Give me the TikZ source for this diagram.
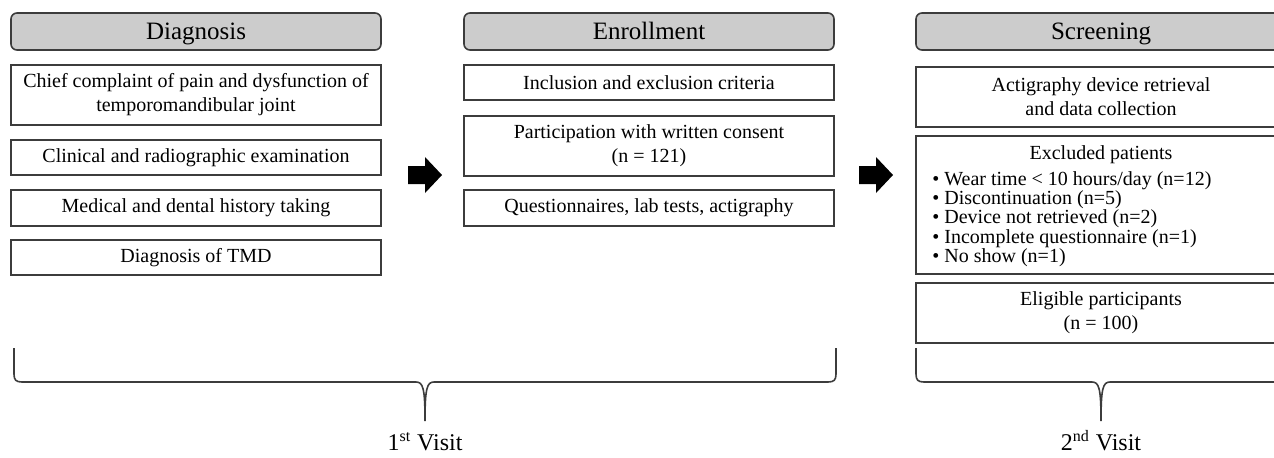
\documentclass[tikz,border=0pt]{standalone}
\usepackage{fontspec}
\setmainfont{Liberation Serif}
\usepackage{tikz}
\definecolor{hdrgray}{RGB}{204,204,204}
\definecolor{edgegray}{RGB}{60,60,60}
\tikzset{
  phasehead/.style={draw=edgegray, line width=0.8pt, fill=hdrgray, rounded corners=3pt,
    minimum width=185pt, minimum height=18.5pt, inner sep=0pt,
    text height=10.5pt, text depth=2.5pt,
    font=\fontsize{12.5pt}{14pt}\selectfont},
  stepbox/.style={draw=edgegray, line width=0.8pt, minimum width=185pt, inner sep=0pt,
    align=center, font=\fontsize{10pt}{12pt}\selectfont},
  visitlabel/.style={anchor=base, inner sep=0pt, font=\fontsize{12pt}{14pt}\selectfont},
  bracket/.style={draw=edgegray, line width=0.8pt}
}

\begin{document}
\begin{tikzpicture}[x=0.5pt, y=-0.5pt]
\useasboundingbox (0,0) rectangle (1274,457);
\clip (0,0) rectangle (1274,457);

% Diagnosis
\node[phasehead] (diag) at (196,31.5) {Diagnosis};
\node[stepbox, minimum height=30pt] (complaint) at (196,95) {Chief complaint of pain and dysfunction of\\temporomandibular joint};
\node[stepbox, minimum height=17.5pt] (exam) at (196,157.5) {Clinical and radiographic examination};
\node[stepbox, minimum height=18pt] (history) at (196,208) {Medical and dental history taking};
\node[stepbox, minimum height=17.5pt] (tmd) at (196,257.5) {Diagnosis of TMD};

% Enrollment
\node[phasehead] (enrol) at (649,31.5) {Enrollment};
\node[stepbox, minimum height=17.5pt] (criteria) at (649,82.5) {Inclusion and exclusion criteria};
\node[stepbox, minimum height=30pt] (consent) at (649,146) {Participation with written consent\\(n = 121)};
\node[stepbox, minimum height=18pt] (tests) at (649,208) {Questionnaires, lab tests, actigraphy};

% Screening
\node[phasehead] (screen) at (1101,31.5) {Screening};
\node[stepbox, minimum height=30pt] (retrieval) at (1101,97) {Actigraphy device retrieval\\and data collection};
\node[stepbox, minimum height=69pt] (excluded) at (1101,205) {};
\node[inner sep=0pt, font=\fontsize{10pt}{12pt}\selectfont] (exctitle) at (1101,155) {Excluded patients};
\node[anchor=north west, inner sep=0pt, align=left, font=\fontsize{10pt}{9.65pt}\selectfont] (exclist) at (932,171)
  {• Wear time < 10 hours/day (n=12)\\• Discontinuation (n=5)\\• Device not retrieved (n=2)\\• Incomplete questionnaire (n=1)\\• No show (n=1)};
\node[stepbox, minimum height=30pt] (eligible) at (1101,313) {Eligible participants\\(n = 100)};

% block arrows
\foreach \ax in {408,859} {
  \fill[black] (\ax,166) -- (\ax+17,166) -- (\ax+17,157) -- (\ax+34,175)
    -- (\ax+17,193) -- (\ax+17,184) -- (\ax,184) -- cycle;
}

% visit brackets
\draw[bracket] (14,348) -- (14,374) .. controls (14,380) and (16,382) .. (22,382)
  -- (416,382) .. controls (423,382) and (425,388) .. (425,421)
  .. controls (425,388) and (427,382) .. (434,382)
  -- (828,382) .. controls (834,382) and (836,380) .. (836,374) -- (836,348);
\draw[bracket] (916,348) -- (916,374) .. controls (916,380) and (918,382) .. (924,382)
  -- (1092,382) .. controls (1099,382) and (1101,388) .. (1101,421)
  .. controls (1101,388) and (1103,382) .. (1110,382)
  -- (1278,382) .. controls (1284,382) and (1286,380) .. (1286,374) -- (1286,348);

\node[visitlabel] (visit1) at (425,450) {1\textsuperscript{st} Visit};
\node[visitlabel] (visit2) at (1101,450) {2\textsuperscript{nd} Visit};
\end{tikzpicture}
\end{document}
